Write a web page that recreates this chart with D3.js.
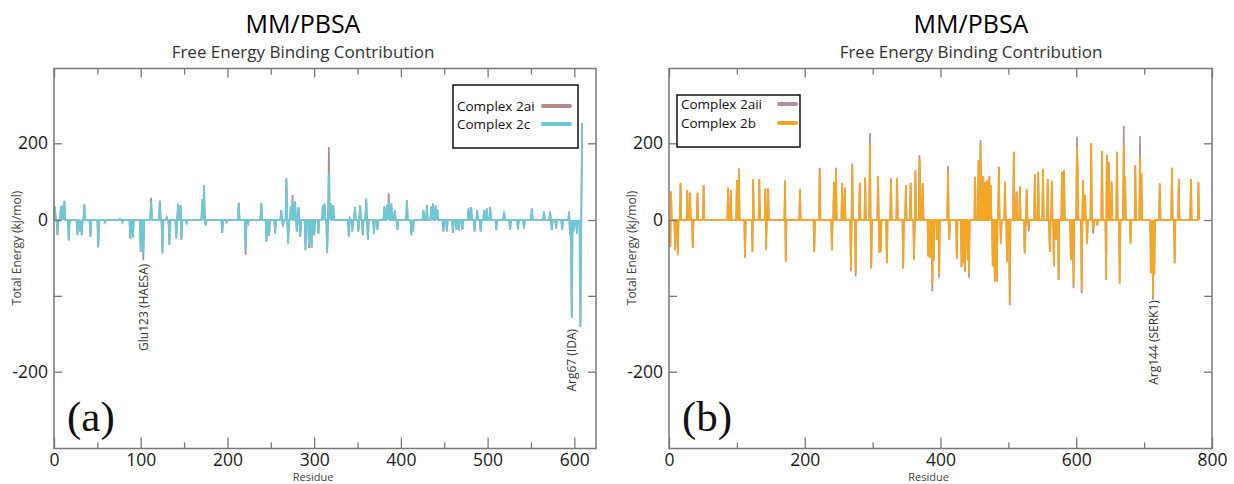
<!DOCTYPE html>
<html>
<head>
<meta charset="utf-8">
<script src="https://cdn.jsdelivr.net/npm/d3@7"></script>
<style>
  body { margin: 0; background: #fff; }
  svg text { font-family: "Open Sans", sans-serif; fill: #1a1a1a; }
</style>
</head>
<body>
<svg id="chart" width="1234" height="484"></svg>
<script>
// [residue, energy] pairs, residues not listed sit on 0
var lastResidueA = 609;
var complex2c = [[1,35],[4,-20],[8,36],[10,39],[12,50],[17,-27],[27,-20],[30,-15],[32,-20],[35,41],
  [42,-22],[51,-36],[59,-3],[76,3],[79,-3],[88,-25],[91,-23],[100,-42],[103,-45],[112,48],
  [122,50],[125,-44],[130,5],[133,-33],[141,-24],[143,42],[146,39],[147,-26],[153,-4],[171,54],
  [173,91],[175,-7],[194,-17],[199,-3],[213,45],[221,-40],[224,-4],[239,45],[245,-29],[248,-21],
  [255,-18],[262,26],[264,-9],[268,109],[270,-31],[273,35],[275,52],[278,48],[280,-15],[282,33],
  [284,-22],[290,-40],[294,-33],[297,-37],[300,-20],[305,-18],[310,39],[312,43],[315,-43],[317,122],
  [319,43],[322,39],[340,-22],[341,4],[344,-15],[347,33],[351,-15],[353,39],[356,-20],[360,56],
  [362,-26],[369,-18],[373,-13],[381,35],[384,39],[386,50],[389,43],[393,26],[396,-13],[407,52],
  [412,-20],[414,-15],[426,26],[430,39],[435,35],[437,43],[440,38],[442,28],[449,-15],[453,-15],
  [460,-17],[464,-13],[467,-14],[471,-13],[478,30],[481,33],[485,-15],[488,26],[492,-15],[496,26],
  [499,30],[503,33],[510,-13],[519,22],[526,-13],[535,-13],[542,-11],[551,30],[565,22],[572,22],
  [574,-13],[579,-11],[586,-13],[594,22],[595,-20],[597,-129],[599,-15],[601,-8],[603,-18],[605,-5],
  [607,-141],[609,253]];
// where complex 2ai shows past 2c
var complex2ai = [[103,-53],[112,58],[130,7],[221,-46],[275,65],[294,-37],[317,190],[386,70]];

var lastResidueB = 781;
var complex2b = [[2,-35],[3,74],[9,-40],[13,-46],[17,97],[27,78],[31,71],[35,-37],[42,71],[51,91],
  [87,85],[91,78],[100,104],[103,130],[112,-50],[123,-42],[124,106],[133,106],[142,82],[143,-39],
  [146,82],[171,103],[172,-55],[193,80],[214,-42],[222,132],[240,-40],[243,100],[246,132],[255,96],
  [259,85],[268,-64],[270,143],[275,-70],[281,97],[289,111],[296,200],[298,-64],[308,115],[310,-43],
  [312,-42],[321,-57],[327,109],[336,109],[345,-64],[349,91],[356,97],[361,-52],[363,126],[369,160],
  [370,117],[374,96],[382,-48],[385,-50],[388,-85],[390,-53],[395,-26],[398,-72],[411,130],[413,-26],
  [424,-51],[431,-62],[434,-57],[436,-68],[440,-53],[442,-72],[451,113],[456,156],[459,200],[463,115],
  [466,100],[469,104],[472,115],[474,91],[477,-61],[480,-81],[483,-81],[486,135],[489,-31],[495,100],
  [498,-55],[502,-108],[508,178],[512,74],[517,87],[524,-44],[527,80],[530,-10],[539,120],[544,126],
  [551,132],[558,106],[561,-42],[564,102],[567,-61],[570,-26],[574,-79],[579,126],[582,130],[592,-53],
  [596,-86],[601,191],[602,137],[608,-93],[610,104],[613,65],[616,-31],[622,201],[625,-12],[631,-7],
  [638,180],[644,-79],[645,170],[648,150],[652,100],[660,178],[664,-84],[670,193],[672,113],[680,-31],
  [687,143],[694,165],[696,122],[710,-68],[711,-70],[713,-101],[715,-72],[723,96],[741,136],[745,-57],
  [751,107],[769,107],[780,99]];
// where complex 2aii shows past 2b
var complex2aii = [[103,134],[222,136],[246,136],[268,-68],[270,147],[275,-74],[296,227],[363,130],
  [369,169],[388,-94],[398,-76],[411,141],[442,-76],[459,208],[486,139],[502,-112],[525,-18],[530,-15],
  [596,-90],[601,217],[608,-97],[625,-18],[670,246],[694,219],[713,-105]];

var xTicksA = [0, 100, 200, 300, 400, 500, 600];
var xMinorA = [50, 150, 250, 350, 450, 550];
var xTicksB = [0, 200, 400, 600, 800];
var xMinorB = [100, 300, 500, 700];
var yTicks = [-200, -100, 0, 200];
var yTickLabels = ['-200', '', '0', '200'];

var legendA = ['Complex 2ai', 'Complex 2c'];
var legendB = ['Complex 2aii', 'Complex 2b'];
var title = 'MM/PBSA';
var subtitle = 'Free Energy Binding Contribution';

var svg = d3.select('#chart');
var plotTop = 68.5, plotBottom = 448.5;
var y = d3.scaleLinear().domain([-200, 0, 200]).range([371.7, 220, 143.3]);

function series(last, pairs, extra) {
  var m = new Map(pairs);
  if (extra) extra.forEach(function (p) { m.set(p[0], p[1]); });
  return d3.range(last + 1).map(function (r) { return [r, m.has(r) ? m.get(r) : 0]; });
}

function axisStyle(a) {
  a.select('.domain').remove();
  a.selectAll('line').attr('stroke', '#777').attr('stroke-width', 1.3);
  a.selectAll('text').style('font-size', '17.5px').attr('fill', '#222');
}

function panel(p) {
  var g = svg.append('g');
  var x = d3.scaleLinear().domain(p.domain).range([p.left, p.right]);

  //title
  g.append('text').attr('x', p.titleX).attr('y', 33).attr('text-anchor', 'middle')
    .style('font-size', '25px').style('fill', '#000').text(title);
  g.append('text').attr('x', p.titleX).attr('y', 58).attr('text-anchor', 'middle')
    .style('font-size', '17px').style('fill', '#333').text(subtitle);

  //lines
  var line = d3.line().x(function (d) { return x(d[0]); }).y(function (d) { return y(d[1]); });
  g.append('path').datum(series(p.last, p.front, p.back))
    .attr('d', line).attr('fill', 'none').attr('stroke', p.colors[0]).attr('stroke-width', 1.7);
  g.append('path').datum(series(p.last, p.front))
    .attr('d', line).attr('fill', 'none').attr('stroke', p.colors[1]).attr('stroke-width', 1.7);

  //axes
  g.append('g').attr('transform', 'translate(0,' + plotBottom + ')')
    .call(d3.axisBottom(x).tickValues(p.ticks).tickSize(-11).tickPadding(5).tickFormat(d3.format('d')))
    .call(axisStyle);
  g.append('g').attr('transform', 'translate(0,' + plotBottom + ')')
    .call(d3.axisBottom(x).tickValues(p.minor).tickSize(-6).tickFormat('')).call(axisStyle);
  g.append('g').attr('transform', 'translate(0,' + plotTop + ')')
    .call(d3.axisTop(x).tickValues(p.ticks).tickSize(-9).tickFormat('')).call(axisStyle);
  g.append('g').attr('transform', 'translate(0,' + plotTop + ')')
    .call(d3.axisTop(x).tickValues(p.minor).tickSize(-6).tickFormat('')).call(axisStyle);
  g.append('g').attr('transform', 'translate(' + p.left + ',0)')
    .call(d3.axisLeft(y).tickValues(yTicks).tickSize(-8).tickPadding(6)
      .tickFormat(function (d, i) { return yTickLabels[i]; }))
    .call(axisStyle);
  g.append('g').attr('transform', 'translate(' + p.right + ',0)')
    .call(d3.axisRight(y).tickValues(yTicks).tickSize(-8).tickFormat('')).call(axisStyle);

  //frame
  g.append('rect').attr('x', p.left).attr('y', plotTop)
    .attr('width', p.right - p.left).attr('height', plotBottom - plotTop)
    .attr('fill', 'none').attr('stroke', '#777').attr('stroke-width', 1.5);

  //axis titles
  g.append('text').attr('x', (p.left + p.right) / 2 - 12).attr('y', 481).attr('text-anchor', 'middle')
    .style('font-size', '11px').style('fill', '#444').text('Residue');
  g.append('text').attr('transform', 'translate(' + (p.left - 36) + ',248) rotate(-90)')
    .attr('text-anchor', 'middle').attr('dominant-baseline', 'middle')
    .style('font-size', '12px').style('fill', '#444').text('Total Energy (kj/mol)');

  //residue labels
  g.selectAll('.res-label').data(p.notes).enter()
    .append('text').attr('class', 'res-label')
    .attr('transform', function (d) { return 'translate(' + (x(d.r) + 1.5) + ',' + (y(d.v) + 2) + ') rotate(-90)'; })
    .attr('text-anchor', 'end').attr('dominant-baseline', 'middle')
    .style('font-size', '12px').style('fill', '#333')
    .text(function (d) { return d.text; });

  //panel letter
  g.append('text').attr('x', p.left + 13).attr('y', 431)
    .style('font-family', '"Liberation Serif", "Times New Roman", serif').style('font-size', '43px')
    .style('fill', '#111').text(p.letter);

  //legend
  var lg = g.append('g');
  lg.append('rect').attr('x', p.legend.x).attr('y', p.legend.y)
    .attr('width', p.legend.w).attr('height', p.legend.h)
    .attr('fill', '#fff').attr('stroke', '#111').attr('stroke-width', 1.5);
  p.names.forEach(function (n, i) {
    var ty = p.legend.ty + i * p.legend.dy;
    lg.append('text').attr('x', p.legend.x + 4).attr('y', ty)
      .style('font-size', '13.5px').style('fill', '#111').text(n);
    lg.append('line').attr('x1', p.legend.sx).attr('x2', p.legend.sx2)
      .attr('y1', ty - 5).attr('y2', ty - 5)
      .attr('stroke', p.colors[i]).attr('stroke-width', 4).attr('stroke-linecap', 'round');
  });
}

panel({
  domain: [0, 625], left: 54, right: 596, titleX: 303, last: lastResidueA,
  front: complex2c, back: complex2ai, colors: ['#b68b8a', '#6cc8d6'],
  ticks: xTicksA, minor: xMinorA, names: legendA, letter: '(a)',
  legend: { x: 453, y: 85, w: 125, h: 63, ty: 111, dy: 18, sx: 543, sx2: 570 },
  notes: [{ text: 'Glu123 (HAESA)', r: 103, v: -55 }, { text: 'Arg67 (IDA)', r: 597, v: -141 }]
});

panel({
  domain: [0, 800], left: 669, right: 1212, titleX: 971, last: lastResidueB,
  front: complex2b, back: complex2aii, colors: ['#ad8ea3', '#f5a623'],
  ticks: xTicksB, minor: xMinorB, names: legendB, letter: '(b)',
  legend: { x: 677, y: 95, w: 123, h: 52, ty: 109, dy: 19, sx: 779, sx2: 796 },
  notes: [{ text: 'Arg144 (SERK1)', r: 713, v: -103 }]
});
</script>
</body>
</html>
